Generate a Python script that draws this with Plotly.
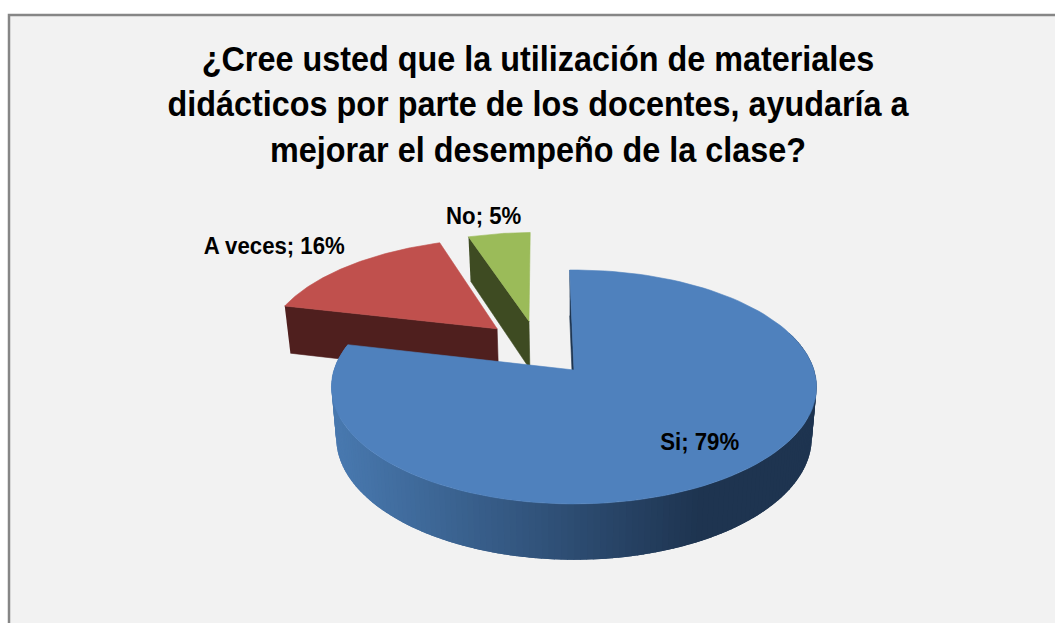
import numpy as np
import plotly.graph_objects as go

# datos
categorias = ["Si", "A veces", "No"]
valores = [79, 16, 5]
titulo = [
    "¿Cree usted que la utilización de materiales",
    "didácticos por parte de los docentes, ayudaría a",
    "mejorar el desempeño de la clase?",
]

color_top = ["#4f81bd", "#c0504d", "#9bbb59"]
color_corte = ["#1f3550", "#4f1f1e", "#3e4b22"]
# desplazamiento de cada porcion en el plano del pastel (u, v)
pull = [(0.0, 0.0), (-0.338, 0.38), (-0.2, 0.455)]
label_pos = [(699, 441), (274, 245), (483, 215)]

FONT = "Liberation Sans, Arial, sans-serif"
W, H = 1055, 623
AX, AY = 574, 370   # vertice del pastel en pantalla
RX, RY = 240, 114.5
K = 0.145           # perspectiva
GROSOR = 51
INICIO = -1.2


def proyectar(u, v, abajo=False):
    w = 1 + K * v
    if abajo:
        s = 1.02
        return AX + RX * u / (w * s), AY - RY * v / (w * s) + GROSOR / (w * s)
    return AX + RX * u / w, AY - RY * v / w


def borde(a0, a1, off, abajo=False, n=120):
    t = np.radians(np.linspace(a0, a1, n))
    return proyectar(np.sin(t) + off[0], np.cos(t) + off[1], abajo)


def poligono(fig, x, y, color, contorno=True):
    linea = dict(color=color, width=0.6) if contorno else dict(width=0)
    fig.add_trace(go.Scatter(
        x=list(x), y=list(y), mode="lines", fill="toself", fillcolor=color,
        line=linea, hoverinfo="skip", showlegend=False,
    ))


def mezcla(t):
    ini, fin = np.array([0x48, 0x78, 0xae]), np.array([0x1e, 0x34, 0x50])
    t = min(max(t, 0), 1)
    r, g, b = (ini + (fin - ini) * t).astype(int)
    return f"rgb({r},{g},{b})"


# angulos de cada porcion a partir de los valores
total = sum(valores)
angulos = {}
a = INICIO
for cat, val in zip(categorias, valores):
    angulos[cat] = (a, a + 360 * val / total)
    a += 360 * val / total

fig = go.Figure()


def cara_corte(i, ang):
    off = pull[i]
    t = np.radians(ang)
    u, v = np.sin(t) + off[0], np.cos(t) + off[1]
    x1, y1 = proyectar(np.array([u, off[0]]), np.array([v, off[1]]))
    x2, y2 = proyectar(np.array([off[0], u]), np.array([off[1], v]), abajo=True)
    poligono(fig, np.r_[x1, x2], np.r_[y1, y2], color_corte[i])


def cara_superior(i):
    off = pull[i]
    a0, a1 = angulos[categorias[i]]
    x, y = borde(a0, a1, off)
    ax, ay = proyectar(off[0], off[1])
    poligono(fig, np.r_[ax, x, ax], np.r_[ay, y, ay], color_top[i])


# las porciones separadas van detras
for i in [1, 2]:
    cara_corte(i, angulos[categorias[i]][0])
    cara_superior(i)

# pared exterior de la porcion grande, por tiras con degradado
# cada tira pisa a la anterior para que no se vean costuras
cara_corte(0, angulos["Si"][0])
fin_pared = angulos["Si"][1]
pasos = np.linspace(70, fin_pared, 160)
for a0, a1 in zip(pasos[:-1], pasos[1:]):
    a_ext = min(a1 + 1.5, fin_pared)
    x1, y1 = borde(a0, a_ext, pull[0], n=4)
    x2, y2 = borde(a_ext, a0, pull[0], abajo=True, n=4)
    t = (x1.mean() - 340) / (700 - 340)
    poligono(fig, np.r_[x1, x2], np.r_[y1, y2], mezcla(t), contorno=False)
cara_superior(0)

# etiquetas
for cat, val, pos in zip(categorias, valores, label_pos):
    fig.add_annotation(
        x=pos[0], y=pos[1], text=f"{cat}; {val}%", showarrow=False,
        font=dict(family=FONT, size=24, color="#000000", weight="bold"),
    )

fig.add_shape(type="rect", x0=9, y0=15, x1=W + 10, y1=H + 10, layer="below",
              fillcolor="#f2f2f2", line=dict(color="#868686", width=2.5))

fig.update_layout(
    width=W, height=H,
    margin=dict(l=0, r=0, t=0, b=0),
    paper_bgcolor="#ffffff", plot_bgcolor="#ffffff",
    showlegend=False,
    title=dict(
        text="<br>".join(titulo), x=538 / W, xanchor="center",
        y=1 - 71 / H, yanchor="top",
        font=dict(family=FONT, size=35, color="#000000", weight="bold"),
    ),
    xaxis=dict(range=[0, W], visible=False, fixedrange=True),
    yaxis=dict(range=[H, 0], visible=False, fixedrange=True),
)

# el texto original es estrecho y no hay fuente narrow instalada
estrechar = """
document.body.style.margin = '0';
document.querySelectorAll('.gtitle, .annotation-text').forEach(function (el) {
    var b = el.getBBox();
    var cx = b.x + b.width / 2;
    var prev = el.getAttribute('transform') || '';
    el.setAttribute('transform', prev + ' translate(' + cx + ',0) scale(0.925,1) translate(' + (-cx) + ',0)');
});
"""
fig.write_html("out.html", config={"displayModeBar": False}, post_script=estrechar)
